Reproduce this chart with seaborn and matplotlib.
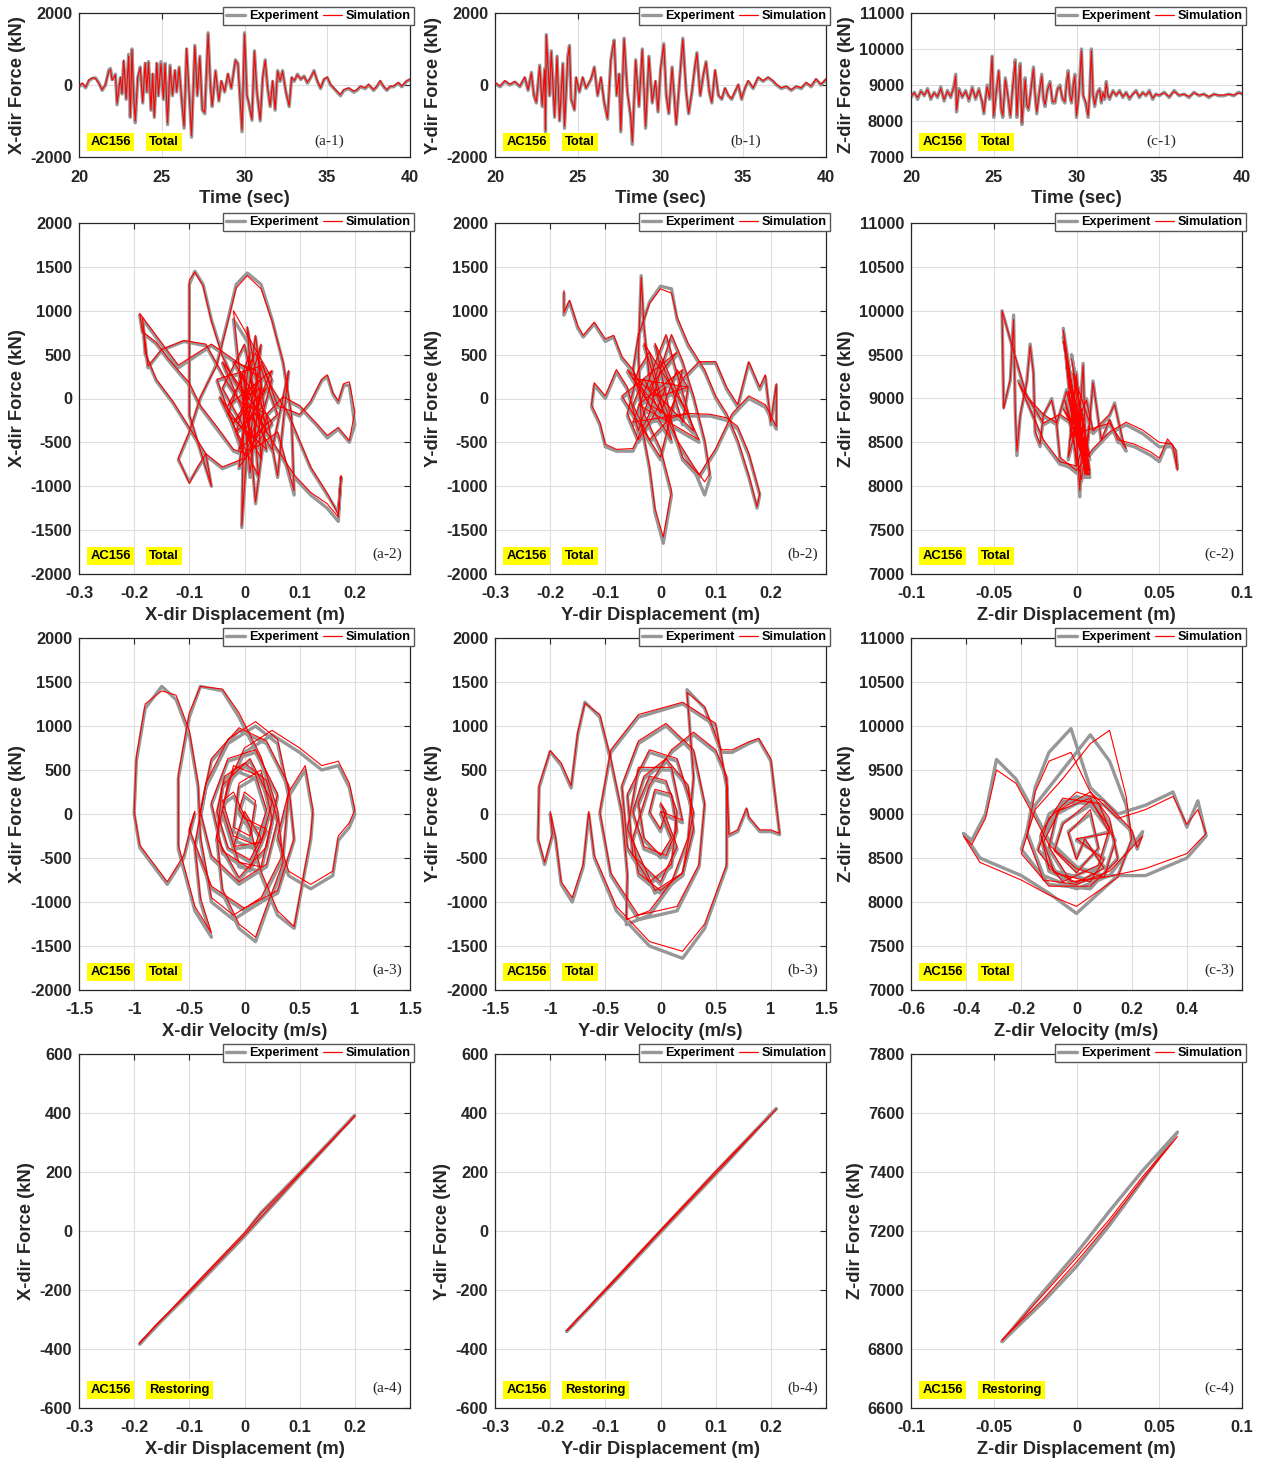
import numpy as np
import pandas as pd
import matplotlib
matplotlib.use("Agg")
import matplotlib.pyplot as plt
from matplotlib.lines import Line2D
import seaborn as sns

# ---------------- data ----------------
# Row 1: time histories of total force
A1_TIME = [20.0,20.2,20.4,20.6,20.8,21.0,21.2,21.4,21.6,21.8,
           21.9,22.0,22.2,22.3,22.5,22.6,22.7,22.85,23.0,23.1,
           23.2,23.3,23.4,23.55,23.7,23.85,24.0,24.1,24.2,24.35,
           24.45,24.55,24.7,24.8,24.95,25.1,25.2,25.35,25.5,25.65,
           25.8,25.9,26.05,26.2,26.35,26.5,26.65,26.8,27.0,27.15,
           27.3,27.45,27.6,27.8,27.95,28.05,28.25,28.45,28.6,28.8,
           29.0,29.2,29.45,29.6,29.85,30.0,30.15,30.25,30.45,30.6,
           30.75,30.95,31.1,31.25,31.4,31.55,31.7,31.85,32.0,32.15,
           32.3,32.5,32.7,32.85,33.0,33.2,33.4,33.6,33.8,34.0,
           34.2,34.4,34.6,34.8,35.0,35.2,35.5,35.8,36.0,36.3,
           36.6,36.8,37.0,37.3,37.5,37.8,38.0,38.2,38.4,38.6,
           38.8,39.0,39.3,39.5,39.8,40.0]
A1_F_EXP = [-50,30,-80,120,180,200,60,-150,0,420,
            460,150,300,-550,200,-250,650,-400,850,-900,
            1000,-300,-1050,200,500,-500,600,-200,650,-700,
            300,-900,600,-300,650,-400,600,-1100,550,-300,
            400,-200,500,-400,-1200,1000,-200,-1450,1100,-300,
            800,-700,-800,1450,-100,-600,400,-450,100,-200,
            300,-100,700,600,-1300,1450,-300,-500,-980,950,
            -200,-1000,200,700,-100,-600,100,-700,400,100,
            400,-200,-600,200,100,300,150,250,50,200,
            400,100,-100,150,200,0,-150,-300,-150,-100,
            -200,-150,-50,-100,0,-150,-50,100,-50,-150,
            -50,-50,50,-50,100,150]
A1_F_SIM = [-30,50,-60,140,200,180,40,-130,20,380,
            430,130,280,-500,220,-230,700,-380,800,-880,
            980,-280,-1000,230,480,-480,620,-180,630,-680,
            320,-880,620,-280,600,-380,580,-1050,520,-280,
            420,-180,480,-380,-1150,1020,-180,-1400,1080,-280,
            780,-680,-760,1420,-80,-580,380,-430,120,-180,
            320,-80,680,580,-1250,1420,-280,-480,-950,930,
            -180,-960,220,680,-80,-580,120,-680,380,120,
            380,-180,-580,220,120,280,170,230,70,220,
            380,120,-80,170,220,20,-130,-270,-130,-80,
            -170,-130,-30,-80,20,-130,-30,120,-30,-130,
            -30,-30,70,-30,120,160]

B1_TIME = [20.0,20.3,20.6,20.9,21.2,21.5,21.8,22.0,22.2,22.35,
           22.5,22.7,22.85,23.0,23.05,23.1,23.3,23.4,23.6,23.75,
           23.9,24.1,24.2,24.4,24.5,24.6,24.8,24.9,25.1,25.3,
           25.5,25.8,26.0,26.2,26.4,26.6,26.8,27.0,27.1,27.2,
           27.35,27.5,27.6,27.8,28.0,28.2,28.3,28.5,28.7,28.9,
           29.1,29.3,29.5,29.7,29.85,30.0,30.2,30.35,30.5,30.7,
           30.95,31.2,31.35,31.55,31.7,31.9,32.05,32.2,32.4,32.6,
           32.75,32.95,33.1,33.3,33.5,33.7,33.9,34.1,34.3,34.5,
           34.7,34.9,35.1,35.3,35.6,35.9,36.2,36.5,36.8,37.0,
           37.3,37.6,37.9,38.2,38.5,38.8,39.1,39.4,39.7,40.0]
B1_F_EXP = [50,-50,100,0,80,-50,200,-150,350,-300,
            -500,550,-600,450,-1300,1400,-300,950,-900,800,
            -1000,600,-1200,800,1100,-400,-700,200,-200,200,
            -100,150,500,-300,200,-500,-950,700,1000,1250,
            -300,300,-1300,1300,-200,-900,-1650,700,-600,1000,
            -1200,800,-500,100,-750,400,1150,-300,-800,500,
            -1100,400,1300,-200,-800,-200,400,900,-300,300,
            650,-200,-500,400,-300,-400,-100,-300,-400,-200,
            0,-400,-100,100,-100,200,100,200,100,0,
            -100,-50,-150,-50,-100,50,-50,150,0,150]
B1_F_SIM = [70,-30,120,20,100,-30,220,-130,330,-280,
            -470,520,-570,430,-1250,1380,-280,920,-870,780,
            -980,580,-1150,780,1080,-380,-680,220,-180,220,
            -80,170,480,-280,220,-480,-920,680,980,1230,
            -280,320,-1260,1280,-180,-880,-1580,680,-580,980,
            -1150,780,-480,120,-720,420,1120,-280,-780,480,
            -1080,420,1270,-180,-780,-180,420,880,-280,320,
            630,-180,-480,420,-280,-380,-80,-280,-380,-180,
            20,-380,-80,120,-80,220,120,220,120,20,
            -80,-30,-130,-30,-80,70,-30,170,20,160]

C1_TIME = [20.0,20.2,20.4,20.6,20.8,21.0,21.2,21.4,21.6,21.8,
           22.0,22.2,22.4,22.6,22.7,22.75,22.9,23.1,23.3,23.5,
           23.7,23.9,24.1,24.3,24.4,24.6,24.75,24.9,25.0,25.15,
           25.3,25.45,25.55,25.7,25.85,26.0,26.15,26.3,26.4,26.5,
           26.6,26.7,26.8,26.9,27.0,27.1,27.25,27.4,27.5,27.6,
           27.75,27.9,28.0,28.1,28.25,28.4,28.55,28.7,28.85,29.0,
           29.15,29.3,29.4,29.5,29.6,29.7,29.8,29.9,30.0,30.15,
           30.3,30.4,30.55,30.7,30.8,30.9,31.0,31.1,31.25,31.4,
           31.5,31.6,31.7,31.8,31.9,32.0,32.2,32.4,32.6,32.8,
           33.0,33.2,33.4,33.6,33.8,34.0,34.2,34.4,34.6,34.8,
           35.0,35.3,35.6,35.9,36.2,36.5,36.8,37.1,37.4,37.7,
           38.0,38.3,38.6,38.9,39.2,39.5,39.8,40.0]
C1_F_EXP = [8650,8800,8600,8850,8700,8900,8600,8800,8650,8950,
            8550,8850,8650,9000,9300,8250,8900,8650,8850,8550,
            8950,8600,8900,8500,8200,9000,8600,9800,8100,8800,
            9400,8300,8100,9200,8700,8100,9000,9700,8100,9000,
            9600,7900,8500,9200,8400,8300,8900,9500,8700,8200,
            8800,9300,8600,8400,8900,9100,8500,8500,8900,9000,
            8600,8500,9100,9400,8700,8500,9000,9300,8100,8800,
            10000,8700,8500,8100,8800,10000,8700,8400,8800,8900,
            8500,8800,8600,9100,8700,8600,8850,8700,8850,8650,
            8800,8600,8750,8850,8650,8800,8700,8850,8600,8750,
            8700,8800,8650,8850,8700,8750,8650,8800,8700,8750,
            8650,8750,8700,8700,8750,8700,8800,8750]
C1_F_SIM = [8700,8780,8650,8820,8720,8870,8640,8780,8680,8900,
            8600,8820,8680,8950,9250,8300,8860,8680,8820,8600,
            8900,8640,8860,8550,8250,8950,8640,9800,8150,8780,
            9380,8350,8150,9150,8720,8150,8960,9650,8150,8960,
            9550,7950,8540,9150,8440,8350,8870,9450,8720,8250,
            8780,9250,8640,8450,8870,9050,8540,8540,8870,8950,
            8640,8540,9050,9350,8720,8540,8960,9250,8150,8780,
            9950,8720,8540,8150,8780,9950,8720,8450,8780,8870,
            8540,8780,8640,9050,8720,8640,8820,8720,8820,8680,
            8780,8640,8740,8820,8680,8780,8720,8820,8640,8740,
            8720,8780,8680,8820,8720,8740,8680,8780,8720,8740,
            8680,8740,8720,8720,8740,8720,8780,8760]

# Row 2: force vs displacement (displacement shared by test and model)
A2_DISP = [0.00,0.03,-0.02,0.04,0.00,0.05,-0.03,0.02,0.06,-0.01,
           0.03,-0.05,0.00,0.04,-0.04,0.02,0.05,-0.02,0.01,0.03,
           -0.06,-0.12,-0.19,-0.185,-0.16,-0.14,-0.12,-0.10,-0.08,-0.05,
           -0.02,0.00,0.03,0.06,0.09,0.085,0.07,0.05,0.03,0.005,
           -0.015,-0.03,-0.05,-0.08,-0.10,-0.12,-0.10,-0.085,-0.07,-0.06,
           -0.10,-0.10,-0.09,-0.075,-0.06,-0.04,-0.02,0.00,0.03,0.06,
           0.09,0.12,0.15,0.17,0.175,0.17,0.15,0.12,0.10,0.08,
           0.05,0.03,0.06,0.10,0.12,0.14,0.15,0.16,0.17,0.18,
           0.19,0.20,0.19,0.17,0.15,0.13,0.10,0.07,0.04,0.01,
           -0.005,0.00,0.02,0.04,0.06,0.08,0.05,
           0.02,-0.03,-0.07,-0.11,-0.15,-0.175,-0.185,-0.18,-0.16,-0.13,
           -0.10,-0.07,-0.04,0.00,0.02,0.00,
           0.01,-0.03,0.04,0.00,-0.04,0.03,0.02,-0.02,0.05,-0.01,
           0.02,0.035,-0.015,0.03,0.01,-0.045,0.025,0.005,0.04,-0.01,
           0.015,0.03,0.00]
A2_F_EXP = [0,200,-300,100,-400,300,-100,500,-200,-600,
            350,200,-700,-300,400,-500,200,900,-900,200,
            600,350,950,750,620,450,300,150,-100,-350,
            -600,-650,-550,-400,-1100,-200,400,900,1300,1430,
            1300,900,400,0,-400,-700,-950,-800,-650,-1000,
            -200,1300,1450,1300,900,500,200,0,-300,-600,
            -900,-1100,-1250,-1400,-900,-1300,-1100,-800,-500,-200,
            100,400,-100,-200,-50,200,250,50,-50,150,
            150,-300,-500,-350,-450,-300,-100,0,-200,-100,
            -1470,300,-1200,-200,-900,300,-600,
            -300,150,600,650,550,350,900,500,200,-50,
            -350,-650,-800,-700,-300,0,
            500,-200,-600,600,100,-700,300,400,-300,-800,
            700,-100,-400,600,-500,0,-900,800,-400,300,
            -600,100,0]
A2_F_SIM = [20,230,-280,120,-380,320,-80,520,-180,-580,
            370,220,-650,-280,420,-480,230,1000,-850,230,
            620,380,970,760,640,470,320,180,-80,-320,
            -580,-620,-520,-380,-1050,-180,420,880,1250,1400,
            1260,880,380,20,-380,-680,-970,-780,-630,-1000,
            -180,1350,1440,1280,880,480,220,20,-280,-580,
            -870,-1070,-1200,-1350,-880,-1320,-1080,-780,-480,-180,
            120,420,-80,-180,-30,220,270,70,-30,170,
            190,-150,-480,-330,-420,-280,-80,20,-180,-80,
            -1450,320,-1180,-180,-880,320,-580,
            -280,170,620,660,560,370,920,520,220,-30,
            -330,-630,-780,-680,-280,20,
            520,-180,-580,620,120,-680,320,420,-280,-780,
            720,-80,-380,620,-480,20,-880,820,-380,320,
            -580,120,20]

B2_DISP = [-0.175,-0.175,-0.165,-0.15,-0.14,-0.12,-0.10,-0.085,-0.07,-0.05,
           -0.02,0.02,0.05,0.09,0.12,0.14,0.16,0.18,0.175,0.16,
           0.14,0.12,0.10,0.08,0.05,0.03,0.02,0.00,-0.02,-0.04,
           -0.05,-0.03,0.00,0.02,0.005,-0.01,-0.02,-0.035,-0.04,-0.035,
           -0.03,-0.02,0.00,0.03,0.06,0.08,0.09,0.08,0.06,0.04,
           0.02,0.00,-0.02,-0.05,-0.08,-0.10,-0.11,-0.125,-0.12,-0.10,
           -0.08,-0.06,-0.04,-0.02,0.00,0.02,0.04,0.05,0.03,0.00,
           -0.03,-0.05,-0.02,0.01,0.04,0.07,0.10,0.12,0.14,0.16,
           0.18,0.19,0.20,0.21,0.21,0.19,0.16,0.13,0.10,0.07,
           0.04,0.02,0.00,-0.02,-0.04,-0.06,-0.04,-0.01,0.01,-0.01,
           -0.06,0.02,-0.03,0.05,-0.05,0.01,0.06,-0.02,0.03,-0.07,
           0.00,0.04,-0.04,0.07,-0.01,0.02,-0.05,0.05,0.00]
B2_F_EXP = [1200,950,1100,800,700,850,650,700,450,300,
            -100,-250,-200,-200,-250,-350,-650,-1100,-1250,-900,
            -500,-200,0,300,600,900,1250,1280,1100,700,
            300,-200,-600,-1100,-1650,-1300,-800,-300,500,1400,
            800,200,-100,-500,-800,-1100,-900,-500,0,400,
            700,300,-200,-600,-600,-550,-300,-100,150,0,
            300,100,-400,0,400,100,-300,100,300,-200,
            200,-100,-500,-300,200,400,400,100,-100,400,
            100,250,-300,150,-350,-100,0,-200,-600,-900,
            -700,-300,0,500,300,-200,-500,-200,100,0,
            300,-500,600,-200,-300,700,-400,100,500,0,
            -700,300,-100,-500,600,-300,200,100,0]
B2_F_SIM = [1230,980,1120,830,720,870,680,720,480,330,
            -70,-220,-170,-180,-220,-320,-620,-1080,-1230,-870,
            -470,-170,30,330,630,930,1200,1250,1080,720,
            330,-170,-570,-1050,-1580,-1250,-770,-270,530,1380,
            830,230,-70,-470,-770,-950,-850,-470,30,430,
            730,330,-170,-570,-580,-520,-270,-70,180,30,
            330,130,-370,30,430,130,-270,130,330,-170,
            230,-70,-470,-270,230,420,420,130,-70,420,
            130,270,-270,170,-320,-70,30,-170,-570,-870,
            -670,-270,30,530,330,-170,-470,-170,130,30,
            330,-470,630,-170,-270,730,-370,130,530,30,
            -670,330,-70,-470,630,-270,230,130,30]

C2_DISP = [0.000,-0.005,0.005,-0.008,0.008,-0.003,0.003,-0.008,0.000,0.004,
           0.006,-0.006,-0.012,-0.020,-0.030,-0.045,-0.044,-0.040,-0.038,-0.037,
           -0.036,-0.034,-0.030,-0.028,-0.026,-0.025,-0.022,-0.020,-0.015,-0.012,
           -0.010,0.000,0.010,0.020,0.030,0.040,0.050,0.058,0.061,0.060,
           0.055,0.050,0.045,0.035,0.025,0.020,0.015,0.010,0.005,0.000,
           -0.005,0.003,0.008,-0.002,0.002,0.004,-0.004,0.006,0.010,0.020,
           0.023,0.028,0.030,0.020,0.005,-0.010,-0.020,-0.035,-0.020,-0.010,
           0.000,0.005,-0.008,0.008,-0.003,0.006,0.000,
           -0.006,0.007,-0.004,0.005,-0.007,0.003,0.008,-0.002,0.006,-0.005,
           0.004,0.000]
C2_F_EXP = [8700,9300,8200,9700,8100,9000,8400,9800,8200,9400,
            8100,9100,8700,8800,9000,10000,8900,9200,9950,8850,
            8350,8800,9200,9620,9300,8600,8450,8800,9000,8700,
            8300,8150,8400,8600,8700,8600,8450,8450,8200,8400,
            8500,8280,8350,8450,8500,8750,8500,9200,8100,9300,
            8300,8900,8150,9100,7880,8800,8500,9000,8600,8800,
            8950,8500,8400,8700,8600,8800,8700,9200,8500,8250,
            8200,8500,8900,8300,9500,8400,8700,
            9400,8100,9200,8200,9000,8050,8700,9300,8150,9100,
            8300,8700]
C2_F_SIM = [8720,9250,8230,9650,8130,8980,8430,9780,8230,9380,
            8130,9080,8720,8820,9020,10000,8880,9230,9900,8870,
            8400,8820,9180,9600,9280,8630,8480,8820,8980,8720,
            8330,8180,8430,8620,8730,8640,8500,8480,8180,8420,
            8540,8320,8390,8480,8530,8760,8530,9180,8130,9280,
            8330,8880,8180,9080,7950,8820,8530,8980,8630,8820,
            8930,8530,8430,8720,8630,8820,8720,9180,8530,8280,
            8230,8530,8880,8330,9450,8430,8720,
            9380,8130,9180,8230,8980,8080,8720,9280,8180,9080,
            8330,8720]

# Row 3: force vs velocity (velocity shared)
A3_VEL = [0.00,0.15,0.05,-0.15,-0.25,-0.18,0.00,0.20,0.30,0.20,
          -0.05,-0.30,-0.40,-0.30,-0.05,0.20,0.40,0.45,0.30,0.00,
          -0.30,-0.50,-0.45,-0.55,-0.70,-0.85,-0.95,-1.00,-0.98,-0.90,
          -0.75,-0.62,-0.50,-0.42,-0.40,-0.30,-0.10,0.15,0.35,0.40,
          0.30,0.10,-0.15,-0.35,-0.45,-0.40,-0.30,-0.45,-0.60,-0.60,
          -0.50,-0.40,-0.20,-0.05,0.15,0.30,0.35,0.20,0.10,-0.05,
          -0.20,-0.25,-0.15,0.00,0.25,0.50,0.70,0.85,0.95,1.00,
          0.95,0.85,0.80,0.60,0.40,0.30,0.40,0.55,0.62,0.60,
          0.45,0.30,0.15,0.05,-0.10,-0.20,-0.10,0.10,0.20,0.10,
          -0.10,-0.20,-0.05,0.15,0.25,0.15,-0.05,-0.10,0.05,0.10,
          0.00,-0.05,0.00,
          0.20,0.05,-0.20,-0.30,-0.15,0.10,0.30,0.20,-0.05,-0.25,
          -0.20,0.05,0.25,0.15,-0.10,0.00]
A3_F_EXP = [0,-300,-550,-400,0,400,550,350,-100,-600,
            -800,-500,0,600,950,800,300,-300,-900,-1100,
            -850,-200,0,-500,-800,-550,-380,0,600,1200,
            1450,1300,900,300,-300,-1000,-1200,-1000,-500,200,
            800,1000,800,300,-400,-1000,-1400,-1100,-400,400,
            1100,1450,1400,1100,600,0,-600,-1100,-1450,-1300,
            -900,-300,300,700,900,700,500,550,300,0,
            -150,-300,-700,-850,-700,-300,200,500,0,-300,
            -1300,-1150,-700,-200,200,100,-300,-400,0,400,
            500,0,-600,-650,-100,450,300,-200,-300,100,
            200,0,-100,
            -200,-650,-450,100,600,700,200,-400,-750,-300,
            300,600,100,-350,-400,0]
A3_F_SIM = [30,-270,-520,-380,30,430,580,380,-70,-570,
            -770,-470,30,630,980,830,330,-270,-870,-1070,
            -820,-170,30,-470,-770,-520,-350,30,650,1250,
            1400,1350,950,350,-250,-950,-1150,-950,-450,250,
            850,1050,850,350,-350,-950,-1350,-1050,-350,450,
            1150,1450,1420,1150,650,50,-550,-1050,-1400,-1250,
            -850,-250,350,750,950,750,550,600,350,50,
            -100,-250,-650,-800,-650,-250,250,550,50,-250,
            -1280,-1100,-650,-150,250,150,-250,-350,50,450,
            550,50,-550,-600,-50,500,350,-150,-250,150,
            250,50,-50,
            -170,-620,-420,130,630,730,230,-370,-720,-270,
            330,630,130,-320,-370,30]

B3_VEL = [0.00,0.10,0.00,-0.15,-0.20,-0.10,0.05,0.15,0.10,-0.10,
          -0.30,-0.35,-0.20,0.05,0.30,0.40,0.35,0.15,-0.20,-0.45,
          -0.55,-0.45,-0.20,0.20,0.50,0.60,0.60,0.40,0.20,-0.10,
          -0.40,-0.60,-0.65,-0.70,-0.80,-0.90,-0.95,-1.00,-0.98,-1.05,
          -1.11,-1.10,-1.00,-0.90,-0.81,-0.75,-0.685,-0.55,-0.45,-0.35,
          -0.30,-0.31,-0.10,0.10,0.25,0.30,0.24,0.40,0.55,0.65,
          0.80,0.89,1.00,1.08,1.00,0.90,0.80,0.78,0.70,0.62,
          0.60,0.50,0.30,0.10,-0.10,-0.25,-0.20,0.00,0.20,0.30,
          0.25,0.05,-0.15,-0.25,-0.15,0.05,0.15,0.10,-0.05,-0.10,
          0.00,0.05,0.00,
          0.15,0.00,-0.25,-0.30,-0.10,0.15,0.30,0.20,-0.05,-0.30,
          -0.20,0.10,0.20,0.00]
B3_F_EXP = [0,-300,-500,-300,100,400,350,0,-600,-800,
            -400,300,800,1000,700,100,-600,-1100,-1200,-700,
            0,700,1100,1250,1000,300,-600,-1300,-1640,-1500,
            -1100,-500,0,-600,-1000,-800,-300,0,-250,-575,
            -300,300,710,550,295,900,1270,1100,600,0,
            -700,-1257,-1150,-800,-300,400,1413,1200,700,700,
            800,845,600,-235,-200,-200,-50,50,-200,-250,
            400,700,900,700,300,-300,-700,-900,-700,-200,
            300,600,400,0,-400,-500,-200,200,250,0,
            -200,0,100,
            -400,-800,-500,200,700,600,0,-700,-900,-200,
            500,500,-100,0]
B3_F_SIM = [30,-270,-470,-270,130,430,380,30,-570,-770,
            -370,330,830,1030,730,130,-570,-1050,-1150,-670,
            30,730,1130,1270,1030,330,-570,-1250,-1560,-1450,
            -1050,-470,30,-570,-950,-770,-270,30,-220,-550,
            -270,330,720,580,320,930,1260,1130,630,30,
            -670,-1200,-1100,-770,-270,430,1380,1220,730,730,
            820,860,630,-220,-180,-180,-30,70,-180,-230,
            430,730,930,730,330,-270,-670,-870,-670,-170,
            330,630,430,30,-370,-470,-170,230,280,30,
            -170,30,130,
            -370,-770,-470,230,730,630,30,-670,-870,-170,
            530,530,-70,30]

C3_VEL = [0.00,0.10,0.05,-0.08,-0.12,-0.06,0.05,0.12,0.15,0.05,
          -0.10,-0.20,-0.15,-0.05,0.05,0.12,0.18,0.20,0.15,0.00,
          -0.10,-0.20,-0.35,-0.41,-0.38,-0.33,-0.29,-0.22,-0.15,-0.10,
          0.00,0.10,0.25,0.40,0.47,0.44,0.40,0.35,0.25,0.15,
          0.05,-0.02,-0.10,-0.15,-0.18,-0.12,0.00,0.12,0.24,0.22,
          0.20,0.10,0.00,-0.10,-0.14,-0.05,0.08,0.12,0.05,-0.05,
          -0.08,0.00,0.08,0.05,-0.03,0.00,0.03,
          0.10,0.00,-0.10,-0.13,-0.05,0.08,0.14,0.10,-0.02,-0.10,
          -0.07,0.05,0.12,0.00]
C3_F_EXP = [8700,8500,8250,8350,8700,9100,9200,8900,8500,8150,
            8200,8600,9100,9500,9900,9600,9100,8700,8300,7870,
            8100,8300,8500,8780,8700,9000,9620,9400,9000,8700,
            8400,8300,8300,8500,8750,9150,8850,9250,9100,9000,
            9300,9970,9700,9300,8800,8300,8150,8300,8800,8600,
            8800,9100,9200,9000,8600,8250,8400,8800,9100,8900,
            8600,8350,8600,9000,8800,8500,8700,
            8400,8200,8350,8750,9150,9100,8700,8300,8200,8600,
            9000,9200,8800,8700]
C3_F_SIM = [8720,8480,8230,8330,8680,9050,9250,8950,8480,8180,
            8180,8550,9050,9400,9800,9950,9200,8720,8280,7950,
            8080,8250,8450,8750,8650,8950,9500,9350,8950,8650,
            8380,8280,8380,8550,8780,9050,8880,9200,9050,8950,
            9250,9700,9600,9250,8750,8250,8200,8350,8750,8620,
            8820,9150,9250,8950,8580,8230,8420,8850,9150,8880,
            8580,8330,8620,9050,8780,8480,8720,
            8380,8220,8380,8780,9180,9120,8680,8280,8230,8630,
            9030,9180,8780,8720]

# Row 4: restoring force vs displacement
A4_DISP = [-0.19,-0.10,0.00,0.03,0.10,0.20,0.10,0.00,-0.10,-0.16,-0.19]
A4_F_EXP = [-383,-205,-10,62,196,392,188,-18,-212,-322,-383]
A4_F_SIM = [-380,-202,-6,60,195,390,190,-14,-208,-318,-380]
B4_DISP = [-0.17,-0.08,0.00,0.05,0.10,0.21,0.12,0.00,-0.08,-0.17]
B4_F_EXP = [-340,-160,0,100,200,415,232,-5,-165,-340]
B4_F_SIM = [-338,-158,3,102,202,413,234,-2,-163,-338]
C4_DISP = [-0.045,-0.02,0.00,0.02,0.04,0.061,0.04,0.02,0.00,-0.02,-0.045]
C4_F_EXP = [6825,6995,7125,7268,7405,7535,7372,7220,7080,6960,6825]
C4_F_SIM = [6830,6985,7110,7240,7385,7520,7375,7230,7095,6970,6830]

SPECIMEN = "AC156"
SERIES = ["Experiment", "Simulation"]

# ---------------- style ----------------
sns.set_theme(style="white")
plt.rcParams['font.family'] = ['Liberation Sans', 'DejaVu Sans']
plt.rcParams['font.weight'] = 'bold'
plt.rcParams['axes.labelweight'] = 'bold'

TXT = '#262626'
EXP_C = '#979797'
SIM_C = '#ff0000'
W, H = 1263, 1460
fig = plt.figure(figsize=(W / 100, H / 100), dpi=100)

LEFTS = [79, 495, 911]
TOPS = [13, 223, 638, 1054]
HEIGHTS = [144, 351, 352, 354]
AW = 331

t_ticks = [20, 25, 30, 35, 40]
f2k = list(range(-2000, 2001, 500))
fz = list(range(7000, 11001, 500))
d3 = [-0.3, -0.2, -0.1, 0, 0.1, 0.2]
dz = [-0.1, -0.05, 0, 0.05, 0.1]
v15 = [-1.5, -1, -0.5, 0, 0.5, 1, 1.5]
vz = [-0.6, -0.4, -0.2, 0, 0.2, 0.4]

def fmt(v):
    return '%g' % v

panels = [
    (0, 0, A1_TIME, A1_F_EXP, A1_F_SIM, (20, 40), t_ticks, (-2000, 2000), [-2000, 0, 2000], 'Time (sec)', 'X-dir Force (kN)', 'Total', '(a-1)'),
    (0, 1, B1_TIME, B1_F_EXP, B1_F_SIM, (20, 40), t_ticks, (-2000, 2000), [-2000, 0, 2000], 'Time (sec)', 'Y-dir Force (kN)', 'Total', '(b-1)'),
    (0, 2, C1_TIME, C1_F_EXP, C1_F_SIM, (20, 40), t_ticks, (7000, 11000), [7000, 8000, 9000, 10000, 11000], 'Time (sec)', 'Z-dir Force (kN)', 'Total', '(c-1)'),
    (1, 0, A2_DISP, A2_F_EXP, A2_F_SIM, (-0.3, 0.3), d3, (-2000, 2000), f2k, 'X-dir Displacement (m)', 'X-dir Force (kN)', 'Total', '(a-2)'),
    (1, 1, B2_DISP, B2_F_EXP, B2_F_SIM, (-0.3, 0.3), d3, (-2000, 2000), f2k, 'Y-dir Displacement (m)', 'Y-dir Force (kN)', 'Total', '(b-2)'),
    (1, 2, C2_DISP, C2_F_EXP, C2_F_SIM, (-0.1, 0.1), dz, (7000, 11000), fz, 'Z-dir Displacement (m)', 'Z-dir Force (kN)', 'Total', '(c-2)'),
    (2, 0, A3_VEL, A3_F_EXP, A3_F_SIM, (-1.5, 1.5), v15, (-2000, 2000), f2k, 'X-dir Velocity (m/s)', 'X-dir Force (kN)', 'Total', '(a-3)'),
    (2, 1, B3_VEL, B3_F_EXP, B3_F_SIM, (-1.5, 1.5), v15, (-2000, 2000), f2k, 'Y-dir Velocity (m/s)', 'Y-dir Force (kN)', 'Total', '(b-3)'),
    (2, 2, C3_VEL, C3_F_EXP, C3_F_SIM, (-0.6, 0.6), vz, (7000, 11000), fz, 'Z-dir Velocity (m/s)', 'Z-dir Force (kN)', 'Total', '(c-3)'),
    (3, 0, A4_DISP, A4_F_EXP, A4_F_SIM, (-0.3, 0.3), d3, (-600, 600), list(range(-600, 601, 200)), 'X-dir Displacement (m)', 'X-dir Force (kN)', 'Restoring', '(a-4)'),
    (3, 1, B4_DISP, B4_F_EXP, B4_F_SIM, (-0.3, 0.3), d3, (-600, 600), list(range(-600, 601, 200)), 'Y-dir Displacement (m)', 'Y-dir Force (kN)', 'Restoring', '(b-4)'),
    (3, 2, C4_DISP, C4_F_EXP, C4_F_SIM, (-0.1, 0.1), dz, (6600, 7800), list(range(6600, 7801, 200)), 'Z-dir Displacement (m)', 'Z-dir Force (kN)', 'Restoring', '(c-4)'),
]

for (r, c, xs, ye, ysim, xlim, xticks, ylim, yticks, xl, yl, tag, lab) in panels:
    h = HEIGHTS[r]
    ax = fig.add_axes([LEFTS[c] / W, 1 - (TOPS[r] + h) / H, AW / W, h / H])
    df = pd.DataFrame({'x': xs, 'exp': ye, 'sim': ysim})
    sns.lineplot(data=df, x='x', y='exp', ax=ax, sort=False, estimator=None,
                 color=EXP_C, lw=2.4, solid_joinstyle='round', solid_capstyle='round', zorder=2)
    sns.lineplot(data=df, x='x', y='sim', ax=ax, sort=False, estimator=None,
                 color=SIM_C, lw=0.8, zorder=3)
    ax.set_xlim(*xlim)
    ax.set_ylim(*ylim)
    ax.set_xticks(xticks)
    ax.set_yticks(yticks)
    ax.set_xticklabels([fmt(v) for v in xticks])
    ax.set_yticklabels([fmt(v) for v in yticks])
    ax.grid(True, color='#dedede', lw=0.8, zorder=0)
    ax.set_axisbelow(True)
    ax.tick_params(direction='in', top=True, right=True, length=4, width=0.8,
                   labelsize=11.8, colors=TXT)
    ax.tick_params(axis='x', pad=9)
    ax.tick_params(axis='y', pad=5)
    for lbl in ax.get_xticklabels() + ax.get_yticklabels():
        lbl.set_fontweight('bold')
    for sp in ax.spines.values():
        sp.set_color(TXT)
        sp.set_linewidth(0.9)
    ax.set_xlabel(xl, fontsize=13.2, fontweight='bold', color=TXT, labelpad=4)
    ax.set_ylabel(yl, fontsize=13.2, fontweight='bold', color=TXT, labelpad=3)

    handles = [Line2D([], [], color=EXP_C, lw=2.4), Line2D([], [], color=SIM_C, lw=0.9)]
    dy = 6 if r == 0 else 10
    leg = ax.legend(handles, SERIES, ncol=2, loc='upper right',
                    bbox_to_anchor=(1 + 4 / AW, 1 + dy / h), frameon=True, fancybox=False,
                    edgecolor='#555555', framealpha=1, fontsize=9.2, handlelength=1.5,
                    handletextpad=0.3, columnspacing=0.35, borderpad=0.25, borderaxespad=0)
    leg.get_frame().set_linewidth(1.0)
    for t in leg.get_texts():
        t.set_fontweight('bold')
        t.set_color('black')

    yb = (15 / h) if r == 0 else (18 / h)
    ax.text(0.035, yb, SPECIMEN, transform=ax.transAxes, fontsize=9.4, fontweight='bold',
            color='black', va='center', ha='left',
            bbox=dict(facecolor='yellow', edgecolor='none', pad=2.4))
    ax.text(0.212, yb, tag, transform=ax.transAxes, fontsize=9.4, fontweight='bold',
            color='black', va='center', ha='left',
            bbox=dict(facecolor='yellow', edgecolor='none', pad=2.4))
    if r == 0:
        ax.text(0.757, yb + 0.005, lab, transform=ax.transAxes, fontsize=11,
                family=['Liberation Serif', 'DejaVu Serif'], fontweight='normal',
                color=TXT, va='center', ha='center')
    else:
        ax.text(0.977, yb + 0.005, lab, transform=ax.transAxes, fontsize=11,
                family=['Liberation Serif', 'DejaVu Serif'], fontweight='normal',
                color=TXT, va='center', ha='right')

fig.savefig('out.png', dpi=100)
